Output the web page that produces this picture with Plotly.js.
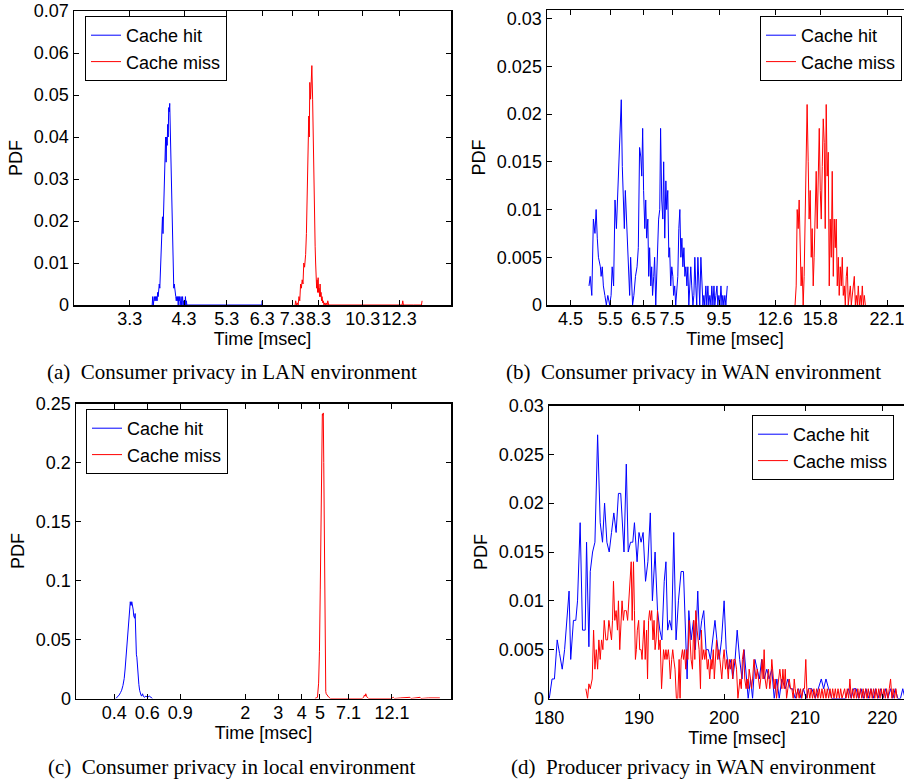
<!DOCTYPE html>
<html><head><meta charset="utf-8">
<script src="https://cdn.plot.ly/plotly-3.0.1.min.js"></script>
<style>html,body{margin:0;padding:0;overflow:hidden;background:#fff;width:904px;height:783px}#chart{width:930px;height:783px}</style>
</head><body><div id="chart"></div>
<script>
// ---------- (a) Consumer privacy in LAN environment ----------
const hitA_t = [3.68,3.69,3.70,3.71,3.72,3.73,3.74,3.75,3.76,3.77,3.78,3.79,3.80,3.81,3.82,3.83,3.84,3.85,3.86,3.87,3.88,3.89,3.90,3.91,3.92,3.93,3.94,3.95,3.96,3.97,3.98,3.99,4.00,4.01,4.02,4.03,4.04,4.05,4.06,4.07,4.08,4.09,4.10,4.11,4.12,4.13,4.14,4.15,4.16,4.17,4.18,4.19,4.20,4.21,4.22,4.23,4.24,4.25,4.26,4.27,4.28,4.29,4.30,4.31,4.32,4.33,4.34,4.35,4.36,4.60,5.00,5.50,6.00,6.29,6.30,6.31];
const hitA_p = [0,0.002,0,0.001,0.002,0.001,0.002,0.001,0.002,0.001,0.003,0.002,0.004,0.005,0.004,0.007,0.009,0.012,0.019,0.021,0.017,0.022,0.023,0.026,0.030,0.040,0.034,0.040,0.038,0.043,0.040,0.047,0.046,0.048,0.042,0.036,0.033,0.030,0.018,0.010,0.006,0.004,0.005,0.003,0.004,0.002,0.001,0.002,0.001,0.002,0,0.002,0.001,0.002,0,0.001,0.002,0,0.001,0.002,0,0.001,0,0.001,0,0.002,0,0.001,0,0,0,0,0,0,0.001,0];
const missA_t = [7.40,7.42,7.45,7.48,7.51,7.54,7.57,7.60,7.63,7.66,7.69,7.72,7.75,7.79,7.82,7.85,7.88,7.91,7.93,7.95,7.98,8.01,8.03,8.06,8.08,8.11,8.14,8.16,8.18,8.20,8.22,8.24,8.26,8.28,8.30,8.32,8.34,8.36,8.38,8.40,8.42,8.44,8.47,8.49,8.52,8.55,8.58,8.61,8.65,8.68,8.72,9.50,10.50,11.50,12.48,12.52,12.56,13.20,13.72,13.76];
const missA_p = [0,0.001,0,0.0005,0,0.002,0.001,0.005,0.004,0.006,0.005,0.010,0.009,0.012,0.017,0.026,0.030,0.045,0.040,0.053,0.049,0.054,0.057,0.049,0.040,0.034,0.025,0.014,0.010,0.007,0.004,0.006,0.003,0.0065,0.003,0.004,0.002,0.005,0.002,0.003,0.001,0.002,0.0005,0.001,0,0.0005,0,0.0005,0,0.001,0,0,0,0,0,0.001,0,0,0,0.001];
const ticksA = [3.3,4.3,5.3,6.3,7.3,8.3,10.3,12.3];
const tickTextA = ['3.3','4.3','5.3','6.3','7.3','8.3','10.3','12.3'];
const yTicksA = [0,0.01,0.02,0.03,0.04,0.05,0.06,0.07];
const yTextA = ['0','0.01','0.02','0.03','0.04','0.05','0.06','0.07'];

// ---------- (b) Consumer privacy in WAN environment ----------
const hitB_t = [4.94,4.97,5.01,5.05,5.09,5.12,5.15,5.18,5.23,5.25,5.28,5.31,5.35,5.39,5.43,5.48,5.52,5.55,5.59,5.63,5.67,5.71,5.74,5.78,5.81,5.84,5.87,5.90,5.93,5.96,6.00,6.03,6.06,6.09,6.12,6.15,6.19,6.24,6.29,6.33,6.37,6.41,6.44,6.47,6.50,6.54,6.57,6.60,6.64,6.67,6.70,6.74,6.77,6.80,6.84,6.87,6.91,6.94,6.98,7.01,7.05,7.08,7.12,7.16,7.19,7.23,7.27,7.30,7.34,7.38,7.41,7.45,7.49,7.53,7.56,7.60,7.64,7.68,7.72,7.76,7.80,7.84,7.88,7.92,7.96,8.00,8.04,8.08,8.12,8.16,8.20,8.24,8.28,8.33,8.37,8.41,8.45,8.49,8.54,8.58,8.62,8.67,8.71,8.76,8.80,8.84,8.89,8.93,8.98,9.02,9.07,9.12,9.16,9.21,9.26,9.30,9.35,9.40,9.44,9.49,9.54,9.59,9.64,9.68,9.73,9.78,9.83,9.90];
const hitB_p = [0.002,0.003,0.001,0.009,0.0075,0.010,0.007,0.005,0.004,0.003,0.004,0.002,0.001,0,0.001,0,0.001,0.004,0.002,0.011,0.008,0.012,0.014,0.0185,0.0215,0.0145,0.011,0.008,0.012,0.009,0.005,0.002,0.001,0.005,0.002,0,0.001,0.003,0.004,0.006,0.0165,0.0155,0.0135,0.0185,0.012,0.008,0.011,0.007,0.009,0.003,0.006,0.002,0.004,0.001,0.003,0.005,0,0.003,0.007,0.009,0.010,0.0185,0.011,0.009,0.015,0.007,0.013,0.010,0.012,0.005,0.006,0.002,0.004,0.003,0.001,0.002,0,0.002,0.003,0.008,0.010,0.005,0.007,0.004,0.006,0.003,0.004,0.002,0.004,0,0.002,0.004,0.002,0,0.001,0.005,0.002,0,0.005,0.001,0,0.005,0.002,0,0.001,0,0.002,0,0.002,0,0.001,0,0.002,0,0.002,0,0.001,0.002,0,0.001,0,0.002,0,0.001,0,0.001,0,0.002];
const missB_t = [13.92,14.00,14.07,14.14,14.21,14.28,14.35,14.42,14.50,14.57,14.64,14.72,14.79,14.87,14.94,15.02,15.10,15.17,15.25,15.32,15.40,15.48,15.56,15.64,15.72,15.80,15.88,15.96,16.04,16.12,16.20,16.28,16.36,16.45,16.53,16.61,16.70,16.78,16.87,16.95,17.04,17.12,17.21,17.30,17.38,17.47,17.56,17.65,17.74,17.83,17.92,18.01,18.10,18.19,18.28,18.38,18.47,18.56,18.66,18.75,18.85,18.94,19.04,19.13,19.23,19.33,19.42,19.52,19.62,19.72,19.82];
const missB_p = [0,0.002,0.010,0.008,0.011,0.006,0.002,0.004,0,0.003,0.010,0.016,0.021,0.015,0.009,0.012,0.005,0.008,0.002,0.005,0.012,0.014,0.008,0.015,0.0185,0.012,0.009,0.0145,0.0195,0.017,0.008,0.021,0.0135,0.016,0.002,0.009,0.005,0.014,0.003,0.009,0.006,0.009,0.002,0.005,0.001,0.004,0.002,0.005,0.001,0.002,0,0.003,0.004,0,0.001,0.002,0,0.001,0.002,0.003,0,0.001,0,0.002,0,0.001,0,0.002,0,0.001,0];
const ticksB = [4.5,5.5,6.5,7.5,9.5,12.6,15.8,22.1];
const tickTextB = ['4.5','5.5','6.5','7.5','9.5','12.6','15.8','22.1'];
const yTicksB = [0,0.005,0.01,0.015,0.02,0.025,0.03];
const yTextB = ['0','0.005','0.01','0.015','0.02','0.025','0.03'];

// ---------- (c) Consumer privacy in local environment ----------
const hitC_t = [0.408,0.415,0.425,0.432,0.438,0.445,0.452,0.457,0.462,0.466,0.471,0.476,0.481,0.484,0.487,0.490,0.493,0.496,0.499,0.502,0.505,0.508,0.511,0.514,0.517,0.520,0.522,0.525,0.528,0.532,0.537,0.541,0.546,0.550,0.555,0.560,0.566,0.572,0.578,0.590,0.602,0.615,0.627,0.640];
const hitC_p = [0,0.001,0.003,0.005,0.007,0.011,0.017,0.025,0.035,0.046,0.058,0.068,0.078,0.081,0.082,0.079,0.079,0.082,0.080,0.076,0.075,0.070,0.069,0.068,0.072,0.050,0.038,0.037,0.035,0.026,0.018,0.012,0.007,0.004,0.003,0.002,0.004,0.002,0.001,0.002,0.001,0.002,0.001,0];
const missC_t = [4.70,4.78,4.85,4.92,4.97,5.02,5.05,5.08,5.11,5.15,5.18,5.21,5.24,5.27,5.30,5.34,5.37,5.40,5.45,5.49,5.58,5.68,6.5,7.5,8.4,8.55,8.64,8.72,8.78,8.86,8.93,9.1,10.0,11.0,12.0,12.32,12.5,13.5,15.1,15.3,17.1,17.3,19.0,21.8];
const missC_p = [0,0.0005,0.001,0.013,0.040,0.092,0.135,0.177,0.215,0.241,0.240,0.242,0.200,0.149,0.085,0.021,0.006,0.004,0.003,0.003,0.001,0,0,0.0005,0,0.001,0.003,0.002,0.004,0.002,0.001,0,0,0.0005,0,0.001,0,0.0005,0.001,0,0.001,0,0.0005,0.0005];
const ticksC = [0.4,0.6,0.9,2,3,4,5,7.1,12.1];
const tickTextC = ['0.4','0.6','0.9','2','3','4','5','7.1','12.1'];
const yTicksC = [0,0.05,0.1,0.15,0.2,0.25];
const yTextC = ['0','0.05','0.1','0.15','0.2','0.25'];

// ---------- (d) Producer privacy in WAN environment ----------
const hitD_t = [180.00,180.30,180.56,180.86,181.12,181.41,181.67,181.90,182.16,182.34,182.64,182.90,183.09,183.38,183.64,183.94,184.09,184.35,184.50,184.76,185.02,185.32,185.61,185.87,186.10,186.36,186.62,186.88,187.14,187.40,187.66,187.92,188.10,188.29,188.55,188.77,189.03,189.29,189.48,189.78,190.00,190.24,190.47,190.75,191.02,191.30,191.54,191.85,192.13,192.40,192.64,192.91,193.11,193.31,193.54,193.78,194.02,194.29,194.57,194.88,195.16,195.39,195.59,195.79,196.06,196.34,196.57,196.85,197.05,197.32,197.56,197.83,198.11,198.35,198.62,198.90,199.13,199.41,199.69,200.00,200.25,200.54,200.83,201.04,201.33,201.58,201.88,202.17,202.42,202.71,202.92,203.21,203.46,203.75,204.04,204.29,204.58,204.88,205.21,205.50,205.83,206.13,206.46,206.75,207.08,207.50,207.83,208.13,208.42,208.75,209.17,209.50,209.79,210.13,210.43,210.86,211.29,211.72,212.06,212.36,212.66,213.00,213.43,214.29,215.15,215.58,215.92,216.22,216.57,216.87,217.21,217.51,217.85,218.15,218.50,218.80,219.10,219.44,219.79,220.09,220.44,220.75,221.10,221.41,221.72,222.07,222.42,222.73,223.04,223.50,224.00,224.50,225.00,225.50];
const hitD_p = [0,0.002,0.002,0.006,0.0046,0.003,0.005,0.008,0.011,0.004,0.008,0.008,0.010,0.018,0.007,0.007,0.016,0.0053,0.013,0.015,0.016,0.027,0.018,0.016,0.020,0.016,0.015,0.017,0.019,0.017,0.021,0.021,0.018,0.015,0.024,0.015,0.016,0.016,0.018,0.014,0.017,0.016,0.017,0.012,0.014,0.019,0.010,0.015,0.009,0.007,0.006,0.012,0.014,0.007,0.008,0.007,0.017,0.006,0.010,0.013,0.013,0.008,0.002,0.009,0.006,0.008,0.005,0.011,0.006,0.008,0.009,0.005,0.005,0.004,0.006,0.008,0.006,0.004,0.006,0.010,0.005,0.003,0.004,0.002,0.004,0.007,0.004,0.002,0.005,0.002,0,0.002,0,0.004,0.003,0.002,0.004,0.002,0.003,0.002,0.003,0,0.002,0,0.002,0.001,0.002,0.001,0.001,0,0.001,0,0.001,0,0.001,0.001,0,0.001,0.002,0.001,0.002,0.001,0,0,0,0.001,0,0.001,0.001,0,0.001,0,0.001,0,0.001,0,0.001,0,0.001,0,0.001,0,0.001,0,0.001,0,0,0.001,0,0.001,0,0.001,0,0.001];
const missD_t = [184.01,184.20,184.35,184.50,184.72,184.87,185.02,185.17,185.32,185.46,185.61,185.76,185.91,186.06,186.25,186.43,186.58,186.73,186.88,186.99,187.10,187.25,187.40,187.55,187.66,187.81,187.92,188.07,188.22,188.33,188.44,188.55,188.70,188.85,188.96,189.11,189.22,189.37,189.48,189.59,189.70,189.81,189.96,190.08,190.24,190.35,190.47,190.59,190.71,190.87,190.98,191.10,191.22,191.34,191.46,191.61,191.73,191.85,191.97,192.13,192.28,192.44,192.60,192.72,192.83,192.99,193.11,193.23,193.39,193.50,193.62,193.78,193.90,194.02,194.17,194.33,194.49,194.65,194.76,194.88,195.04,195.16,195.28,195.43,195.55,195.67,195.83,195.94,196.06,196.22,196.38,196.50,196.61,196.77,196.89,197.01,197.17,197.28,197.40,197.56,197.68,197.83,197.99,198.11,198.27,198.43,198.54,198.70,198.82,198.98,199.09,199.21,199.37,199.49,199.61,199.72,199.88,200.00,200.17,200.33,200.50,200.63,200.75,200.92,201.04,201.17,201.33,201.50,201.67,201.79,201.92,202.08,202.21,202.38,202.50,202.67,202.79,202.92,203.04,203.21,203.33,203.46,203.63,203.75,203.88,204.04,204.17,204.33,204.46,204.63,204.75,204.88,205.00,205.17,205.29,205.42,205.58,205.71,205.83,206.00,206.13,206.25,206.42,206.54,206.67,206.83,206.96,207.08,207.21,207.38,207.50,207.67,207.83,208.00,208.17,208.33,208.50,208.63,208.75,208.92,209.08,209.25,209.42,209.58,209.75,209.92,210.09,210.26,210.43,210.60,210.77,210.94,211.12,211.29,211.46,211.63,211.80,211.97,212.15,212.32,212.49,212.66,212.83,213.00,213.18,213.35,213.52,213.69,213.86,214.03,214.21,214.38,214.55,214.72,215.06,215.24,215.41,215.58,215.75,215.92,216.09,216.27,216.44,216.61,216.78,216.95,217.12,217.30,217.47,217.64,217.81,217.98,218.15,218.33,218.50,218.67,218.84,219.01,219.18,219.36,219.53,219.70,219.87,220.04,220.22,220.40,220.57,220.75,220.93,221.10,221.28,221.45,221.63,221.81,221.98];
const missD_p = [0.001,0,0.0015,0.001,0.002,0.007,0.003,0.005,0.003,0.006,0.004,0.006,0.005,0.008,0.006,0.006,0.008,0.007,0.006,0.008,0.012,0.008,0.009,0.007,0.010,0.005,0.007,0.010,0.008,0.009,0.009,0.009,0.008,0.010,0.011,0.014,0.008,0.014,0.009,0.004,0.005,0.007,0.008,0.005,0.005,0.004,0.006,0.008,0.004,0.007,0.002,0.008,0.009,0.008,0.009,0.006,0.008,0.005,0.006,0.009,0.005,0.006,0.001,0.004,0.005,0.004,0.005,0.004,0.005,0.004,0.002,0.004,0.005,0.004,0.003,0,0,0.004,0,0.004,0.005,0.004,0.005,0.003,0.005,0.004,0.008,0.006,0.004,0.003,0.008,0.004,0.009,0.007,0.006,0.005,0.001,0.007,0.004,0.005,0.004,0.005,0.003,0.004,0.002,0.004,0.003,0.005,0.002,0.005,0.006,0.004,0.005,0.004,0.003,0.002,0.004,0.005,0.003,0.004,0.002,0.004,0.003,0.004,0.002,0.004,0.004,0.003,0,0.001,0.002,0.001,0.004,0.005,0.002,0.001,0.002,0.001,0.003,0.002,0.001,0.002,0.004,0.003,0.002,0.003,0.002,0.001,0.002,0.004,0.002,0.005,0.002,0.001,0.002,0.003,0.001,0.002,0.004,0.002,0.001,0.002,0,0.001,0.002,0.003,0.002,0.001,0.003,0.001,0.003,0,0.001,0.002,0.001,0.001,0,0.002,0.001,0,0.001,0,0.001,0,0.001,0.001,0.004,0,0.001,0,0.001,0,0.001,0,0.001,0,0.001,0,0.001,0,0.001,0,0.001,0,0.001,0,0.001,0,0.001,0,0.001,0,0.001,0,0.001,0,0.001,0,0.002,0,0.001,0,0.001,0,0.001,0,0.001,0,0.001,0,0.001,0,0.001,0,0.001,0,0.001,0,0.001,0,0.001,0,0.001,0,0.001,0,0.001,0,0.001,0.002,0,0.001,0,0.001,0,0.001,0,0.001,0];
const ticksD = [180,190,200,210,220];
const tickTextD = ['180','190','200','210','220'];

const seriesNames = ['Cache hit','Cache miss'];
const captions = ['(a)\u00a0\u00a0Consumer privacy in LAN environment','(b)\u00a0\u00a0Consumer privacy in WAN environment','(c)\u00a0\u00a0Consumer privacy in local environment','(d)\u00a0\u00a0Producer privacy in WAN environment'];

// ---------- drawing ----------
const SANS = 'Liberation Sans, Arial, Helvetica, sans-serif';
const SERIF = 'Liberation Serif, Times New Roman, serif';
const W = 930, H = 783;
const BLUE = '#0000ff', RED = '#ff0000';

function line(x, y, color, name, xa, ya, leg) {
  return {x: x, y: y, type: 'scatter', mode: 'lines', name: name,
    line: {color: color, width: 1}, xaxis: xa, yaxis: ya, legend: leg, showlegend: true, hoverinfo: 'skip'};
}
const traces = [
  line(hitA_t, hitA_p, BLUE, seriesNames[0], 'x', 'y', 'legend'),
  line(missA_t, missA_p, RED, seriesNames[1], 'x', 'y', 'legend'),
  line(hitB_t, hitB_p, BLUE, seriesNames[0], 'x2', 'y2', 'legend2'),
  line(missB_t, missB_p, RED, seriesNames[1], 'x2', 'y2', 'legend2'),
  line(hitC_t, hitC_p, BLUE, seriesNames[0], 'x3', 'y3', 'legend3'),
  line(missC_t, missC_p, RED, seriesNames[1], 'x3', 'y3', 'legend3'),
  line(hitD_t, hitD_p, BLUE, seriesNames[0], 'x4', 'y4', 'legend4'),
  line(missD_t, missD_p, RED, seriesNames[1], 'x4', 'y4', 'legend4')
];

function common() {
  return {ticks: 'inside', ticklen: 5, tickwidth: 1, tickcolor: '#000', showline: true, linecolor: '#000', linewidth: 1.5,
    mirror: 'ticks', showgrid: false, zeroline: false, tickangle: 0,
    tickfont: {family: SANS, size: 18, color: '#000'}, fixedrange: true, automargin: false};
}
function xAxis(px0, px1, anchor, range, vals, txt, type, stand, titleStand) {
  return Object.assign(common(), {domain: [px0 / W, px1 / W], anchor: anchor, type: type, range: range,
    tickmode: 'array', tickvals: vals, ticktext: txt, ticklabelstandoff: stand,
    title: {text: 'Time [msec]', font: {family: SANS, size: 18, color: '#000'}, standoff: titleStand}});
}
function yAxis(top, bottom, anchor, range, vals, txt) {
  return Object.assign(common(), {domain: [1 - bottom / H, 1 - top / H], anchor: anchor, range: range,
    tickmode: 'array', tickvals: vals, ticktext: txt,
    title: {text: 'PDF', font: {family: SANS, size: 18, color: '#000'}, standoff: 6}});
}
function legend(px, py) {
  return {x: px / W, y: 1 - py / H, xanchor: 'left', yanchor: 'top', bgcolor: '#fff', bordercolor: '#000',
    borderwidth: 1, font: {family: SANS, size: 18, color: '#000'}, tracegroupgap: 0};
}
function caption(text, cx, cy) {
  return {text: text, x: cx / W, y: 1 - cy / H, xref: 'paper', yref: 'paper', xanchor: 'center', yanchor: 'middle',
    showarrow: false, font: {family: SERIF, size: 21, color: '#000'}};
}

const layout = {
  width: W, height: H, margin: {l: 0, r: 0, t: 0, b: 0},
  paper_bgcolor: '#fff', plot_bgcolor: '#fff', showlegend: true,
  xaxis: xAxis(74, 451, 'y', [0.4, 1.2], ticksA, tickTextA, 'log', -3, 2),
  yaxis: yAxis(11, 305, 'x', [0, 0.07], yTicksA, yTextA),
  xaxis2: xAxis(547, 923, 'y2', [0.602, 1.423], ticksB, tickTextB, 'log', -3, 2),
  yaxis2: yAxis(10, 305, 'x2', [0, 0.0309], yTicksB, yTextB),
  xaxis3: xAxis(76, 451, 'y3', [-0.602, 1.398], ticksC, tickTextC, 'log', -3, 2),
  yaxis3: yAxis(403.5, 698.5, 'x3', [0, 0.25], yTicksC, yTextC),
  xaxis4: xAxis(549, 925, 'y4', [2.2552, 2.3536], ticksD, tickTextD, 'log', 2, 0),
  yaxis4: yAxis(405.5, 698.5, 'x4', [0, 0.03], yTicksB, yTextB),
  legend: legend(85, 16),
  legend2: legend(760, 16),
  legend3: legend(86, 409),
  legend4: legend(752, 415),
  annotations: [caption(captions[0], 232, 372), caption(captions[1], 693, 372),
                caption(captions[2], 232, 767), caption(captions[3], 693, 767)]
};

Plotly.newPlot('chart', traces, layout, {staticPlot: true, displayModeBar: false});
</script></body></html>
